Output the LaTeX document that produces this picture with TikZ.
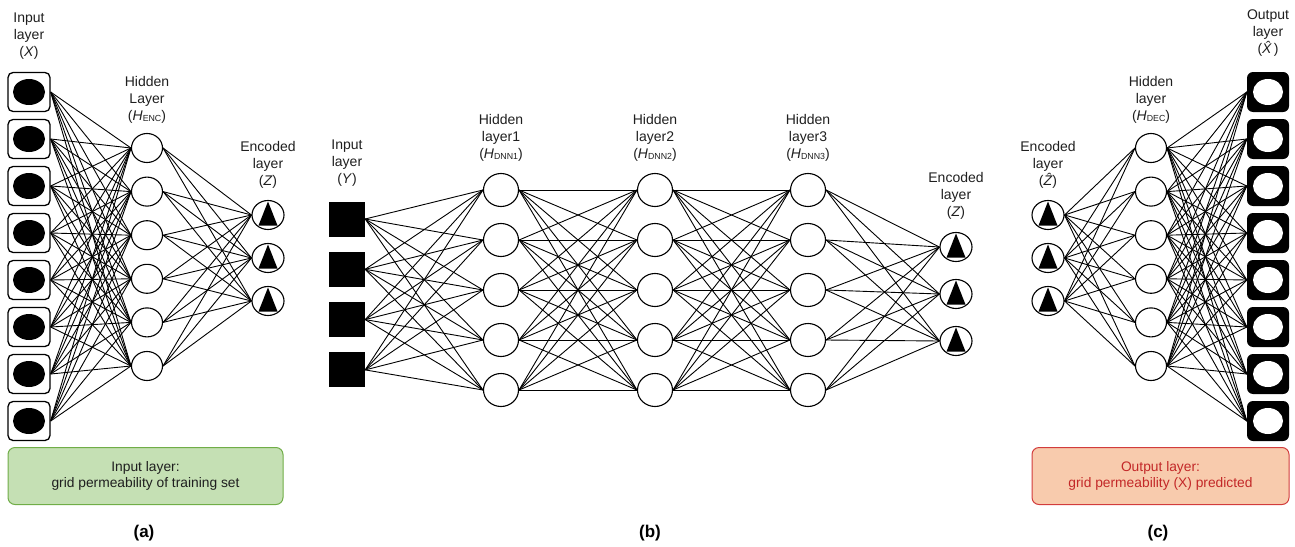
\documentclass[tikz,border=0pt]{standalone}
\usepackage{fontspec}
\setmainfont{Liberation Sans}
\usetikzlibrary{shapes.geometric,backgrounds}

\definecolor{boxgreen}{RGB}{197,224,180}
\definecolor{linegreen}{RGB}{112,173,71}
\definecolor{boxsalmon}{RGB}{248,203,173}
\definecolor{linered}{RGB}{210,60,60}
\definecolor{textred}{RGB}{195,40,40}

% italic H with a small upright index
\newcommand{\Hsub}[1]{\textit{H}\raisebox{-0.8pt}{\fontsize{8.8}{9}\selectfont #1}}

\tikzset{
  lbl/.style={align=center, font=\fontsize{14}{17}\selectfont, inner sep=0pt, text=black!88},
  unit/.style={ellipse, draw, line width=1.1pt, fill=white,
    minimum width=31pt, minimum height=29pt, inner sep=0pt},
  bigunit/.style={unit, minimum width=35pt, minimum height=33pt},
  codeunit/.style={unit, minimum width=32pt, path picture={
    \fill[black] ([xshift=-9.5pt,yshift=-10.5pt]path picture bounding box.center)
       -- ([xshift=9.5pt,yshift=-10.5pt]path picture bounding box.center)
       -- ([yshift=13.5pt]path picture bounding box.center) -- cycle;}},
  inbox/.style={rectangle, rounded corners=5pt, draw, line width=1.3pt, fill=white,
    minimum width=42pt, minimum height=39pt, inner sep=0pt,
    path picture={\fill[black] (path picture bounding box.center) ellipse [x radius=16pt, y radius=13pt];}},
  outbox/.style={rectangle, rounded corners=6pt, fill=black,
    minimum width=42pt, minimum height=40pt, inner sep=0pt,
    path picture={\fill[white] (path picture bounding box.center) ellipse [x radius=15pt, y radius=13pt];}},
  sqbox/.style={rectangle, fill=black, minimum width=36pt, minimum height=35pt, inner sep=0pt},
  wire/.style={line width=0.9pt, black},
  infobox/.style={rectangle, rounded corners=7pt, line width=1pt, align=center,
    minimum width=#1, minimum height=57pt, font=\fontsize{13.8}{16.5}\selectfont},
  tag/.style={font=\fontsize{17}{20}\selectfont\bfseries, inner sep=0pt}
}

\begin{document}
\begin{tikzpicture}[x=1pt,y=-1pt]
\useasboundingbox (0,0) rectangle (1295,546);

% ---------- (a) encoder ----------
\foreach \i in {1,...,8}
  \node[inbox] (ax\i) at (29,{92+47*(\i-1)}) {};
\foreach \j in {1,...,6}
  \node[unit] (ah\j) at (147,{148+43.6*(\j-1)}) {};
\foreach \k/\y in {1/215,2/258,3/301}
  \node[codeunit] (az\k) at (268,\y) {};

\node[lbl] (axl) at (29,36) {Input\\layer\\(\textit{X})};
\node[lbl] (ahl) at (147,100) {Hidden\\Layer\\(\Hsub{ENC})};
\node[lbl] (azl) at (268,165) {Encoded\\layer\\(\textit{Z})};

% ---------- (b) deep network ----------
\foreach \i in {1,...,4}
  \node[sqbox] (by\i) at (347,{219+50.3*(\i-1)}) {};
\foreach \c/\x in {1/501,2/655,3/808}
  \foreach \k in {1,...,5}
    \node[bigunit] (bh\c\k) at (\x,{190+50*(\k-1)}) {};
\foreach \k/\y in {1/247,2/294,3/341}
  \node[codeunit] (bz\k) at (956,\y) {};

\node[lbl] (byl) at (347,163) {Input\\layer\\(\textit{Y})};
\node[lbl] (bh1l) at (501,138) {Hidden\\layer1\\(\Hsub{DNN1})};
\node[lbl] (bh2l) at (655,138) {Hidden\\layer2\\(\Hsub{DNN2})};
\node[lbl] (bh3l) at (808,138) {Hidden\\layer3\\(\Hsub{DNN3})};
\node[lbl] (bzl) at (956,196) {Encoded\\layer\\(\textit{Z})};

% ---------- (c) decoder ----------
\foreach \k/\y in {1/215,2/258,3/301}
  \node[codeunit] (cz\k) at (1048,\y) {};
\foreach \j in {1,...,6}
  \node[unit] (ch\j) at (1151,{148+43.6*(\j-1)}) {};
\foreach \i in {1,...,8}
  \node[outbox] (cx\i) at (1268,{92+47*(\i-1)}) {};

\node[lbl] (czl) at (1048,165) {Encoded\\layer\\(\textit{\^{Z}})};
\node[lbl] (chl) at (1151,100) {Hidden\\layer\\(\Hsub{DEC})};
\node[lbl] (cxl) at (1268,33) {Output\\layer\\(\textit{\^{X}})};

% ---------- connections ----------
\begin{scope}[on background layer]
  \foreach \i in {1,...,8} \foreach \j in {1,...,6}
    \draw[wire] (ax\i.east) -- (ah\j.west);
  \foreach \j in {1,...,6} \foreach \k in {1,2,3}
    \draw[wire] (ah\j.east) -- (az\k.west);

  \foreach \i in {1,...,4} \foreach \k in {1,...,5}
    \draw[wire] (by\i.east) -- (bh1\k.west);
  \foreach \a in {1,...,5} \foreach \b in {1,...,5} {
    \draw[wire] (bh1\a.east) -- (bh2\b.west);
    \draw[wire] (bh2\a.east) -- (bh3\b.west);
  }
  \foreach \a in {1,...,5} \foreach \k in {1,2,3}
    \draw[wire] (bh3\a.east) -- (bz\k.west);

  \foreach \k in {1,2,3} \foreach \j in {1,...,6}
    \draw[wire] (cz\k.east) -- (ch\j.west);
  \foreach \j in {1,...,6} \foreach \i in {1,...,8}
    \draw[wire] (ch\j.east) -- (cx\i.west);
\end{scope}

% ---------- captions ----------
\node[infobox=275pt, draw=linegreen, fill=boxgreen, text=black!88] (ginfo) at (145.5,476)
  {Input layer:\\grid permeability of training set};
\node[infobox=257pt, draw=linered, fill=boxsalmon, text=textred] (rinfo) at (1160.5,476)
  {Output layer:\\grid permeability (X) predicted};

\node[tag] (ta) at (144,533) {(a)};
\node[tag] (tb) at (650,533) {(b)};
\node[tag] (tc) at (1158,533) {(c)};
\end{tikzpicture}
\end{document}
